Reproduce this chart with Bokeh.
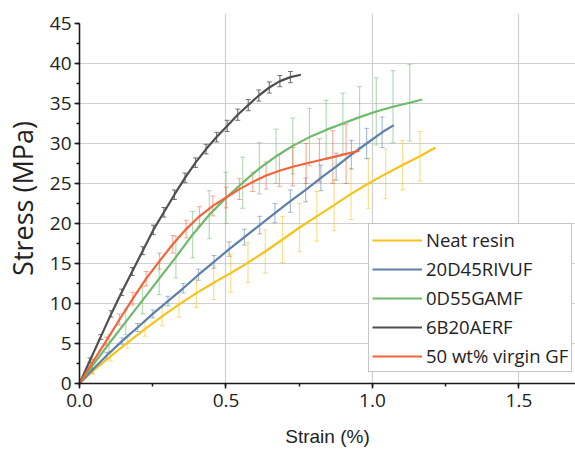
from bokeh.plotting import figure
from bokeh.models import (Range1d, SingleIntervalTicker, PrintfTickFormatter,
                          ColumnDataSource)
from bokeh.embed import file_html
from bokeh.resources import INLINE

# ---- data (strain %, stress MPa, error MPa) ----
neat_x = [0, 0.047, 0.106, 0.164, 0.223, 0.282, 0.340, 0.399, 0.458, 0.516, 0.575,
          0.634, 0.693, 0.751, 0.810, 0.869, 0.927, 0.986, 1.045, 1.103, 1.162, 1.215]
neat_y = [0, 1.6, 3.4, 5.1, 6.8, 8.4, 9.9, 11.3, 12.6, 13.8, 15.1,
          16.5, 18.0, 19.5, 20.9, 22.3, 23.7, 25.0, 26.2, 27.3, 28.4, 29.5]
neat_e = [0, 0.4, 0.6, 0.7, 0.9, 1.2, 1.6, 1.8, 2.1, 2.4, 2.5,
          2.7, 2.9, 3.0, 3.1, 3.2, 3.2, 3.1, 3.1, 3.1, 3.1, 0]

riv_x = [0, 0.041, 0.093, 0.145, 0.198, 0.250, 0.302, 0.354, 0.406, 0.459, 0.511,
         0.563, 0.615, 0.667, 0.720, 0.772, 0.824, 0.876, 0.928, 0.980, 1.033, 1.073]
riv_y = [0, 1.6, 3.5, 5.3, 7.0, 8.7, 10.3, 11.9, 13.6, 15.2, 16.8,
         18.3, 19.8, 21.3, 22.8, 24.2, 25.7, 27.1, 28.6, 30.0, 31.4, 32.3]
riv_e = [0, 0.3, 0.4, 0.4, 0.5, 0.5, 0.6, 0.6, 0.7, 0.8, 0.9,
         1.0, 1.1, 1.2, 1.4, 1.5, 1.6, 1.7, 1.8, 1.9, 1.9, 0]

gam_x = [0, 0.044, 0.101, 0.158, 0.215, 0.272, 0.329, 0.386, 0.443, 0.500, 0.557,
         0.614, 0.671, 0.728, 0.785, 0.842, 0.899, 0.956, 1.013, 1.070, 1.127, 1.17]
gam_y = [0, 2.2, 5.0, 7.7, 10.4, 13.1, 15.8, 18.6, 21.1, 23.2, 25.1,
         26.9, 28.4, 29.7, 30.8, 31.7, 32.5, 33.3, 34.0, 34.6, 35.1, 35.5]
gam_e = [0, 0.6, 1.1, 1.6, 1.7, 2.0, 2.6, 2.9, 3.0, 3.2, 3.2,
         3.2, 3.4, 3.5, 3.6, 3.7, 3.8, 3.8, 4.2, 4.5, 4.8, 0]

aer_x = [0, 0.036, 0.072, 0.108, 0.144, 0.180, 0.216, 0.252, 0.288, 0.324, 0.360,
         0.396, 0.432, 0.468, 0.504, 0.540, 0.576, 0.612, 0.648, 0.684, 0.720, 0.756]
aer_y = [0, 2.9, 5.8, 8.7, 11.4, 14.0, 16.6, 19.2, 21.4, 23.6, 25.7,
         27.6, 29.3, 30.8, 32.2, 33.6, 34.8, 36.0, 37.0, 37.8, 38.3, 38.6]
aer_e = [0, 0.3, 0.3, 0.4, 0.4, 0.5, 0.5, 0.6, 0.6, 0.6, 0.6,
         0.6, 0.6, 0.6, 0.7, 0.7, 0.7, 0.7, 0.7, 0.7, 0.7, 0]

vgf_x = [0, 0.0455, 0.091, 0.1365, 0.182, 0.2275, 0.273, 0.3185, 0.364, 0.4095, 0.455,
         0.5005, 0.546, 0.5915, 0.637, 0.6825, 0.728, 0.7735, 0.819, 0.8645, 0.91, 0.955]
vgf_y = [0, 2.7, 5.3, 8.0, 10.6, 13.1, 15.3, 17.4, 19.3, 20.9, 22.2,
         23.25, 24.3, 25.2, 26.0, 26.6, 27.1, 27.5, 27.9, 28.3, 28.7, 29.1]
vgf_e = [0, 0.3, 0.5, 0.7, 0.8, 0.9, 1.0, 1.1, 1.1, 1.2, 1.25,
         1.3, 1.3, 1.2, 1.7, 2.0, 2.4, 2.5, 2.7, 3.3, 3.7, 0]

names = ["Neat resin", "20D45RIVUF", "0D55GAMF", "6B20AERF", "50 wt% virgin GF"]
colors = ["#F7C21B", "#5B80A9", "#6DBA6B", "#4F4F4F", "#F4643A"]
xs = [neat_x, riv_x, gam_x, aer_x, vgf_x]
ys = [neat_y, riv_y, gam_y, aer_y, vgf_y]
es = [neat_e, riv_e, gam_e, aer_e, vgf_e]

p = figure(width=575, height=455, output_backend="svg", toolbar_location=None,
           x_range=Range1d(0, 1.693), y_range=Range1d(0, 46.25),
           min_border_left=78, min_border_right=0, min_border_top=13,
           min_border_bottom=72)
p.outline_line_color = None
p.background_fill_color = "white"

# error bars first
for x, y, e, c in zip(xs, ys, es, colors):
    bx = [xi for xi, ei in zip(x, e) if ei > 0]
    lo = [yi - ei for yi, ei in zip(y, e) if ei > 0]
    hi = [yi + ei for yi, ei in zip(y, e) if ei > 0]
    src = ColumnDataSource(dict(x=bx, lo=lo, hi=hi))
    a = 0.75 if c == "#4F4F4F" else 0.5
    p.segment(x0="x", y0="lo", x1="x", y1="hi", source=src, line_color=c,
              line_alpha=a, line_width=1.2)
    p.scatter(x="x", y="hi", source=src, marker="dash", size=5, line_color=c,
              line_alpha=a, line_width=1)
    p.scatter(x="x", y="lo", source=src, marker="dash", size=5, line_color=c,
              line_alpha=a, line_width=1)

for x, y, c, n in zip(xs, ys, colors, names):
    p.line(x, y, line_color=c, line_width=2.2, legend_label=n)

xt = SingleIntervalTicker(interval=0.5, num_minor_ticks=2)
yt = SingleIntervalTicker(interval=5, num_minor_ticks=2)
p.xaxis.ticker = xt
p.yaxis.ticker = yt
p.xgrid.ticker = xt
p.ygrid.ticker = yt
p.xaxis.formatter = PrintfTickFormatter(format="%.1f")
p.yaxis.bounds = (0, 45)
p.ygrid.bounds = (0, 44)

for ax in (p.xaxis, p.yaxis):
    ax.axis_line_color = "#1a1a1a"
    ax.axis_line_width = 1.6
    ax.major_tick_line_color = "#1a1a1a"
    ax.minor_tick_line_color = "#1a1a1a"
    ax.major_tick_line_width = 1.5
    ax.minor_tick_line_width = 1.5
    ax.major_tick_out = 5
    ax.major_tick_in = 0
    ax.minor_tick_out = 3
    ax.minor_tick_in = 0
    ax.major_label_text_font = "Open Sans"
    ax.major_label_text_font_size = "19px"
    ax.major_label_text_color = "#222222"
    ax.axis_label_text_font_style = "normal"
    ax.axis_label_text_color = "#222222"
p.xaxis.major_label_standoff = 5
p.yaxis.major_label_standoff = 3

p.yaxis.axis_label = "Stress (MPa)"
p.yaxis.axis_label_text_font = "Open Sans"
p.yaxis.axis_label_text_font_size = "27px"
p.yaxis.axis_label_standoff = 6
p.xaxis.axis_label = "Strain (%)"
p.xaxis.axis_label_text_font = "Liberation Sans"
p.xaxis.axis_label_text_font_size = "19px"
p.xaxis.axis_label_standoff = 16

p.xgrid.grid_line_color = "#cfcfcf"
p.ygrid.grid_line_color = "#cfcfcf"
p.xgrid.grid_line_width = 1.2
p.ygrid.grid_line_width = 1.2

lg = p.legend[0]
lg.location = (289, 11)
lg.padding = 3
lg.spacing = 4
lg.margin = 0
lg.glyph_width = 50
lg.glyph_height = 20
lg.label_height = 20
lg.label_standoff = 4
lg.label_text_font = "Open Sans"
lg.label_text_font_size = "18.5px"
lg.label_text_color = "#222222"
lg.border_line_color = "#8c8c8c"
lg.border_line_width = 1
lg.background_fill_color = "white"
lg.background_fill_alpha = 1

open("out.html", "w").write(file_html(p, INLINE))
